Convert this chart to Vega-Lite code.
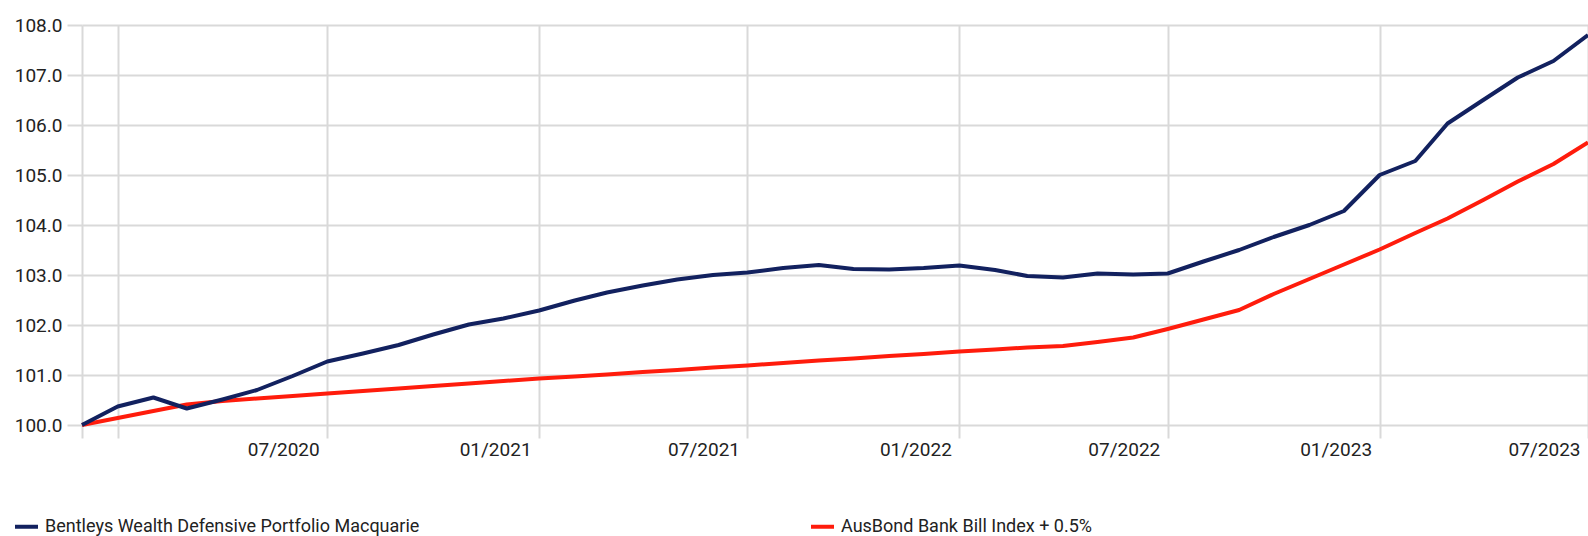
{
  "$schema": "https://vega.github.io/schema/vega-lite/v6.json",
  "autosize": "none",
  "width": 1506,
  "height": 400,
  "padding": {"left": 82, "top": 25, "right": 0, "bottom": 111},
  "background": "white",
  "config": {
    "view": {"stroke": null},
    "font": "Roboto",
    "axis": {"labelFont": "Roboto", "labelFontSize": 19, "labelColor": "#222222"},
    "legend": {"labelFont": "Roboto", "labelFontSize": 18, "labelColor": "#222222"}
  },
  "data": {
    "values": [
      {"date": "2019-12-01", "series": "AusBond Bank Bill Index + 0.5%", "value": 100.00},
      {"date": "2020-01-01", "series": "AusBond Bank Bill Index + 0.5%", "value": 100.14},
      {"date": "2020-02-01", "series": "AusBond Bank Bill Index + 0.5%", "value": 100.28},
      {"date": "2020-03-01", "series": "AusBond Bank Bill Index + 0.5%", "value": 100.41},
      {"date": "2020-04-01", "series": "AusBond Bank Bill Index + 0.5%", "value": 100.48},
      {"date": "2020-05-01", "series": "AusBond Bank Bill Index + 0.5%", "value": 100.53},
      {"date": "2020-06-01", "series": "AusBond Bank Bill Index + 0.5%", "value": 100.58},
      {"date": "2020-07-01", "series": "AusBond Bank Bill Index + 0.5%", "value": 100.63},
      {"date": "2020-08-01", "series": "AusBond Bank Bill Index + 0.5%", "value": 100.68},
      {"date": "2020-09-01", "series": "AusBond Bank Bill Index + 0.5%", "value": 100.73},
      {"date": "2020-10-01", "series": "AusBond Bank Bill Index + 0.5%", "value": 100.78},
      {"date": "2020-11-01", "series": "AusBond Bank Bill Index + 0.5%", "value": 100.83},
      {"date": "2020-12-01", "series": "AusBond Bank Bill Index + 0.5%", "value": 100.88},
      {"date": "2021-01-01", "series": "AusBond Bank Bill Index + 0.5%", "value": 100.93},
      {"date": "2021-02-01", "series": "AusBond Bank Bill Index + 0.5%", "value": 100.97},
      {"date": "2021-03-01", "series": "AusBond Bank Bill Index + 0.5%", "value": 101.01},
      {"date": "2021-04-01", "series": "AusBond Bank Bill Index + 0.5%", "value": 101.06},
      {"date": "2021-05-01", "series": "AusBond Bank Bill Index + 0.5%", "value": 101.10},
      {"date": "2021-06-01", "series": "AusBond Bank Bill Index + 0.5%", "value": 101.15},
      {"date": "2021-07-01", "series": "AusBond Bank Bill Index + 0.5%", "value": 101.19},
      {"date": "2021-08-01", "series": "AusBond Bank Bill Index + 0.5%", "value": 101.24},
      {"date": "2021-09-01", "series": "AusBond Bank Bill Index + 0.5%", "value": 101.29},
      {"date": "2021-10-01", "series": "AusBond Bank Bill Index + 0.5%", "value": 101.33},
      {"date": "2021-11-01", "series": "AusBond Bank Bill Index + 0.5%", "value": 101.38},
      {"date": "2021-12-01", "series": "AusBond Bank Bill Index + 0.5%", "value": 101.42},
      {"date": "2022-01-01", "series": "AusBond Bank Bill Index + 0.5%", "value": 101.47},
      {"date": "2022-02-01", "series": "AusBond Bank Bill Index + 0.5%", "value": 101.51},
      {"date": "2022-03-01", "series": "AusBond Bank Bill Index + 0.5%", "value": 101.55},
      {"date": "2022-04-01", "series": "AusBond Bank Bill Index + 0.5%", "value": 101.58},
      {"date": "2022-05-01", "series": "AusBond Bank Bill Index + 0.5%", "value": 101.66},
      {"date": "2022-06-01", "series": "AusBond Bank Bill Index + 0.5%", "value": 101.75},
      {"date": "2022-07-01", "series": "AusBond Bank Bill Index + 0.5%", "value": 101.92},
      {"date": "2022-08-01", "series": "AusBond Bank Bill Index + 0.5%", "value": 102.11},
      {"date": "2022-09-01", "series": "AusBond Bank Bill Index + 0.5%", "value": 102.30},
      {"date": "2022-10-01", "series": "AusBond Bank Bill Index + 0.5%", "value": 102.62},
      {"date": "2022-11-01", "series": "AusBond Bank Bill Index + 0.5%", "value": 102.92},
      {"date": "2022-12-01", "series": "AusBond Bank Bill Index + 0.5%", "value": 103.21},
      {"date": "2023-01-01", "series": "AusBond Bank Bill Index + 0.5%", "value": 103.51},
      {"date": "2023-02-01", "series": "AusBond Bank Bill Index + 0.5%", "value": 103.84},
      {"date": "2023-03-01", "series": "AusBond Bank Bill Index + 0.5%", "value": 104.13},
      {"date": "2023-04-01", "series": "AusBond Bank Bill Index + 0.5%", "value": 104.50},
      {"date": "2023-05-01", "series": "AusBond Bank Bill Index + 0.5%", "value": 104.87},
      {"date": "2023-06-01", "series": "AusBond Bank Bill Index + 0.5%", "value": 105.22},
      {"date": "2023-07-01", "series": "AusBond Bank Bill Index + 0.5%", "value": 105.65},
      {"date": "2019-12-01", "series": "Bentleys Wealth Defensive Portfolio Macquarie", "value": 100.00},
      {"date": "2020-01-01", "series": "Bentleys Wealth Defensive Portfolio Macquarie", "value": 100.37},
      {"date": "2020-02-01", "series": "Bentleys Wealth Defensive Portfolio Macquarie", "value": 100.55},
      {"date": "2020-03-01", "series": "Bentleys Wealth Defensive Portfolio Macquarie", "value": 100.33},
      {"date": "2020-04-01", "series": "Bentleys Wealth Defensive Portfolio Macquarie", "value": 100.51},
      {"date": "2020-05-01", "series": "Bentleys Wealth Defensive Portfolio Macquarie", "value": 100.70},
      {"date": "2020-06-01", "series": "Bentleys Wealth Defensive Portfolio Macquarie", "value": 100.98},
      {"date": "2020-07-01", "series": "Bentleys Wealth Defensive Portfolio Macquarie", "value": 101.27},
      {"date": "2020-08-01", "series": "Bentleys Wealth Defensive Portfolio Macquarie", "value": 101.43},
      {"date": "2020-09-01", "series": "Bentleys Wealth Defensive Portfolio Macquarie", "value": 101.60},
      {"date": "2020-10-01", "series": "Bentleys Wealth Defensive Portfolio Macquarie", "value": 101.81},
      {"date": "2020-11-01", "series": "Bentleys Wealth Defensive Portfolio Macquarie", "value": 102.01},
      {"date": "2020-12-01", "series": "Bentleys Wealth Defensive Portfolio Macquarie", "value": 102.13},
      {"date": "2021-01-01", "series": "Bentleys Wealth Defensive Portfolio Macquarie", "value": 102.29},
      {"date": "2021-02-01", "series": "Bentleys Wealth Defensive Portfolio Macquarie", "value": 102.49},
      {"date": "2021-03-01", "series": "Bentleys Wealth Defensive Portfolio Macquarie", "value": 102.65},
      {"date": "2021-04-01", "series": "Bentleys Wealth Defensive Portfolio Macquarie", "value": 102.79},
      {"date": "2021-05-01", "series": "Bentleys Wealth Defensive Portfolio Macquarie", "value": 102.91},
      {"date": "2021-06-01", "series": "Bentleys Wealth Defensive Portfolio Macquarie", "value": 103.00},
      {"date": "2021-07-01", "series": "Bentleys Wealth Defensive Portfolio Macquarie", "value": 103.05},
      {"date": "2021-08-01", "series": "Bentleys Wealth Defensive Portfolio Macquarie", "value": 103.14},
      {"date": "2021-09-01", "series": "Bentleys Wealth Defensive Portfolio Macquarie", "value": 103.20},
      {"date": "2021-10-01", "series": "Bentleys Wealth Defensive Portfolio Macquarie", "value": 103.12},
      {"date": "2021-11-01", "series": "Bentleys Wealth Defensive Portfolio Macquarie", "value": 103.11},
      {"date": "2021-12-01", "series": "Bentleys Wealth Defensive Portfolio Macquarie", "value": 103.14},
      {"date": "2022-01-01", "series": "Bentleys Wealth Defensive Portfolio Macquarie", "value": 103.19},
      {"date": "2022-02-01", "series": "Bentleys Wealth Defensive Portfolio Macquarie", "value": 103.10},
      {"date": "2022-03-01", "series": "Bentleys Wealth Defensive Portfolio Macquarie", "value": 102.98},
      {"date": "2022-04-01", "series": "Bentleys Wealth Defensive Portfolio Macquarie", "value": 102.95},
      {"date": "2022-05-01", "series": "Bentleys Wealth Defensive Portfolio Macquarie", "value": 103.03},
      {"date": "2022-06-01", "series": "Bentleys Wealth Defensive Portfolio Macquarie", "value": 103.01},
      {"date": "2022-07-01", "series": "Bentleys Wealth Defensive Portfolio Macquarie", "value": 103.03},
      {"date": "2022-08-01", "series": "Bentleys Wealth Defensive Portfolio Macquarie", "value": 103.27},
      {"date": "2022-09-01", "series": "Bentleys Wealth Defensive Portfolio Macquarie", "value": 103.50},
      {"date": "2022-10-01", "series": "Bentleys Wealth Defensive Portfolio Macquarie", "value": 103.76},
      {"date": "2022-11-01", "series": "Bentleys Wealth Defensive Portfolio Macquarie", "value": 104.00},
      {"date": "2022-12-01", "series": "Bentleys Wealth Defensive Portfolio Macquarie", "value": 104.28},
      {"date": "2023-01-01", "series": "Bentleys Wealth Defensive Portfolio Macquarie", "value": 105.00},
      {"date": "2023-02-01", "series": "Bentleys Wealth Defensive Portfolio Macquarie", "value": 105.28},
      {"date": "2023-03-01", "series": "Bentleys Wealth Defensive Portfolio Macquarie", "value": 106.03},
      {"date": "2023-04-01", "series": "Bentleys Wealth Defensive Portfolio Macquarie", "value": 106.50},
      {"date": "2023-05-01", "series": "Bentleys Wealth Defensive Portfolio Macquarie", "value": 106.95},
      {"date": "2023-06-01", "series": "Bentleys Wealth Defensive Portfolio Macquarie", "value": 107.28},
      {"date": "2023-07-01", "series": "Bentleys Wealth Defensive Portfolio Macquarie", "value": 107.80}
    ]
  },
  "mark": {"type": "line", "strokeWidth": 4, "strokeJoin": "round", "clip": false},
  "encoding": {
    "x": {
      "field": "date",
      "type": "temporal",
      "scale": {"type": "utc", "domain": [{"year": 2019, "month": 12, "date": 1, "utc": true}, {"year": 2023, "month": 7, "date": 1, "utc": true}], "nice": false},
      "axis": {
        "title": null,
        "values": [
          {"year": 2019, "month": 12, "date": 1, "utc": true},
          {"year": 2020, "month": 1, "date": 1, "utc": true},
          {"year": 2020, "month": 7, "date": 1, "utc": true},
          {"year": 2021, "month": 1, "date": 1, "utc": true},
          {"year": 2021, "month": 7, "date": 1, "utc": true},
          {"year": 2022, "month": 1, "date": 1, "utc": true},
          {"year": 2022, "month": 7, "date": 1, "utc": true},
          {"year": 2023, "month": 1, "date": 1, "utc": true},
          {"year": 2023, "month": 7, "date": 1, "utc": true}
        ],
        "format": "%m/%Y",
        "labelExpr": "datum.value < utc(2020, 1, 1) ? '' : datum.label",
        "domain": false,
        "grid": true,
        "gridColor": "#d9d9d9",
        "gridWidth": 2,
        "tickSize": 13,
        "tickColor": "#d9d9d9",
        "tickWidth": 2,
        "labelAlign": "right",
        "labelOffset": -8,
        "labelPadding": 2,
        "labelOverlap": false,
        "labelBound": false,
        "labelFlush": false
      }
    },
    "y": {
      "field": "value",
      "type": "quantitative",
      "scale": {"domain": [100, 108], "nice": false, "zero": false},
      "axis": {
        "title": null,
        "values": [100, 101, 102, 103, 104, 105, 106, 107, 108],
        "format": ".1f",
        "domain": false,
        "grid": true,
        "gridColor": "#d9d9d9",
        "gridWidth": 2,
        "tickSize": 15,
        "tickColor": "#d9d9d9",
        "tickWidth": 2,
        "labelPadding": 5,
        "labelOverlap": false
      }
    },
    "color": {
      "field": "series",
      "type": "nominal",
      "scale": {
        "domain": ["Bentleys Wealth Defensive Portfolio Macquarie", "AusBond Bank Bill Index + 0.5%"],
        "range": ["#12215f", "#ff1c0c"]
      },
      "legend": {
        "title": null,
        "orient": "none",
        "legendX": -69,
        "legendY": 488,
        "direction": "horizontal",
        "padding": 0,
        "symbolType": "stroke",
        "symbolSize": 529,
        "symbolStrokeWidth": 4,
        "labelOffset": 5,
        "labelLimit": 600,
        "columnPadding": 383
      }
    }
  }
}
